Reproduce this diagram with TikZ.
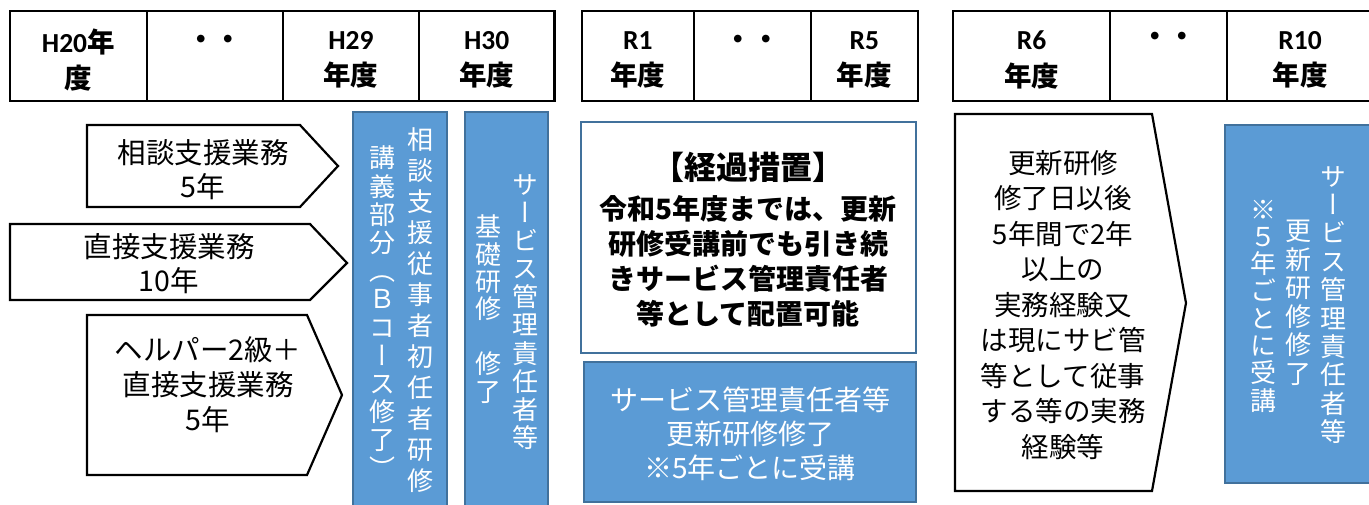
\documentclass[tikz,border=0pt]{standalone}
\usepackage{fontspec}
\newfontfamily\jp{Noto Sans CJK JP}
\newfontfamily\jpv[RawFeature=+vert]{Noto Sans CJK JP}
\newfontfamily\lat{Carlito}
\definecolor{bfill}{HTML}{5B9BD5}
\definecolor{bline}{HTML}{41719C}
\newcommand\Hlat[1]{{\lat\bfseries #1}}
\newcommand\Hjp[1]{{\jp\bfseries #1}}
\begin{document}
\begin{tikzpicture}[x=1pt,y=-1pt,
  hline/.style={draw=black,line width=2.4pt},
  arrowbox/.style={draw=black,line width=2.2pt,fill=white,line join=miter},
  bluebox/.style={draw=bline,fill=bfill,line width=2pt},
  notebox/.style={draw=bline,fill=white,line width=2pt},
  hdrtext/.style={inner sep=0pt,align=center,font=\fontsize{27.5}{36.5}\selectfont},
  jtext/.style={inner sep=0pt,align=center,font=\jp\fontsize{28.5}{34}\selectfont},
  vcol/.style={inner sep=0pt,align=center,text=white,font=\jpv\fontsize{26}{#1}\selectfont},
]
\useasboundingbox (0,0) rectangle (1369,505);
\clip (0,0) rectangle (1369,505);
\fill[white] (0,0) rectangle (1369,505);

% ---------- header rows ----------
\draw[hline] (10,11) rectangle (554.3,101);
\draw[hline] (146.7,11) -- (146.7,101);
\draw[hline] (282.7,11) -- (282.7,101);
\draw[hline] (419,11) -- (419,101);

\draw[hline] (581.7,11) rectangle (918,101);
\draw[hline] (694,11) -- (694,101);
\draw[hline] (810.7,11) -- (810.7,101);

\draw[hline] (953,11) rectangle (1380,101);
\draw[hline] (1110,11) -- (1110,101);
\draw[hline] (1227,11) -- (1227,101);

\node[hdrtext] (h20) at (78.3,60) {\Hlat{H20}\Hjp{年}\\\Hjp{度}};
\node[hdrtext] (hd1) at (214.7,42) {\Hjp{・・}};
\node[hdrtext] (h29) at (350.9,60) {\Hlat{H29}\\\Hjp{年度}};
\node[hdrtext] (h30) at (486.7,60) {\Hlat{H30}\\\Hjp{年度}};
\node[hdrtext] (r1) at (637.8,60) {\Hlat{R1}\\\Hjp{年度}};
\node[hdrtext] (hd2) at (752.3,42) {\Hjp{・・}};
\node[hdrtext] (r5) at (864.3,60) {\Hlat{R5}\\\Hjp{年度}};
\node[hdrtext] (r6) at (1031.5,60) {\Hlat{R6}\\\Hjp{年度}};
\node[hdrtext] (hd3) at (1168.5,39) {\Hjp{・・}};
\node[hdrtext] (r10) at (1300,60) {\Hlat{R10}\\\Hjp{年度}};

% ---------- left arrows ----------
\draw[arrowbox] (87,125) -- (300,125) -- (338,166) -- (300,207) -- (87,207) -- cycle;
\draw[arrowbox] (10,224) -- (310,224) -- (347,263) -- (310,300) -- (10,300) -- cycle;
\draw[arrowbox] (87,315) -- (307,315) -- (342,395) -- (307,475) -- (87,475) -- cycle;

\node[jtext] (a1) at (203,169.5) {相談支援業務\\5年};
\node[jtext] (a2) at (169,263.5) {直接支援業務\\10年};
\node[jtext,font=\jp\fontsize{28.5}{35}\selectfont] (a3) at (208,385) {ヘルパー2級＋\\直接支援業務\\5年};

% ---------- blue bars ----------
\draw[bluebox] (353,112) rectangle (447,515);
\draw[bluebox] (465,112) rectangle (548,515);

\node[vcol=31] (b1r) at (420,310) {相\\談\\支\\援\\従\\事\\者\\初\\任\\者\\研\\修};
\node[vcol=28.2] (b1l) at (382,312) {講\\義\\部\\分\\（\\Ｂ\\コ\\ー\\ス\\修\\了\\）};
\node[vcol=28.1] (b2r) at (525,312) {サ\\ー\\ビ\\ス\\管\\理\\責\\任\\者\\等};
\node[vcol=27.4] (b2l) at (488,309) {基\\礎\\研\\修\\　\\修\\了};

% ---------- transition box ----------
\draw[notebox] (581,122) rectangle (916,353);
\node[inner sep=0pt,font=\jp\bfseries\fontsize{32}{36}\selectfont] (kk) at (748,167) {【経過措置】};
\node[inner sep=0pt,align=center,font=\jp\bfseries\fontsize{28}{35}\selectfont] (kkt) at (748,261)
  {令和5年度までは、更新\\研修受講前でも引き続\\きサービス管理責任者\\等として配置可能};

\draw[bluebox] (584,362) rectangle (916,502);
\node[inner sep=0pt,align=center,text=white,font=\jp\fontsize{28}{34}\selectfont] (upd) at (750,434)
  {サービス管理責任者等\\更新研修修了\\※5年ごとに受講};

% ---------- right part ----------
\draw[arrowbox] (955,114) -- (1152,114) -- (1186,303) -- (1152,491) -- (955,491) -- cycle;
\node[inner sep=0pt,align=center,font=\jp\fontsize{27.5}{35.5}\selectfont] (r6t) at (1063,305)
  {更新研修\\修了日以後\\5年間で2年\\以上の\\実務経験又\\は現にサビ管\\等として従事\\する等の実務\\経験等};

\draw[bluebox] (1225,125) rectangle (1380,483);
\node[vcol=28.4] (c1) at (1333,305) {サ\\ー\\ビ\\ス\\管\\理\\責\\任\\者\\等};
\node[vcol=28.5] (c2) at (1298,303) {更\\新\\研\\修\\修\\了};
\node[vcol=27.3] (c3) at (1263,306) {※\\５\\年\\ご\\と\\に\\受\\講};
\end{tikzpicture}
\end{document}
